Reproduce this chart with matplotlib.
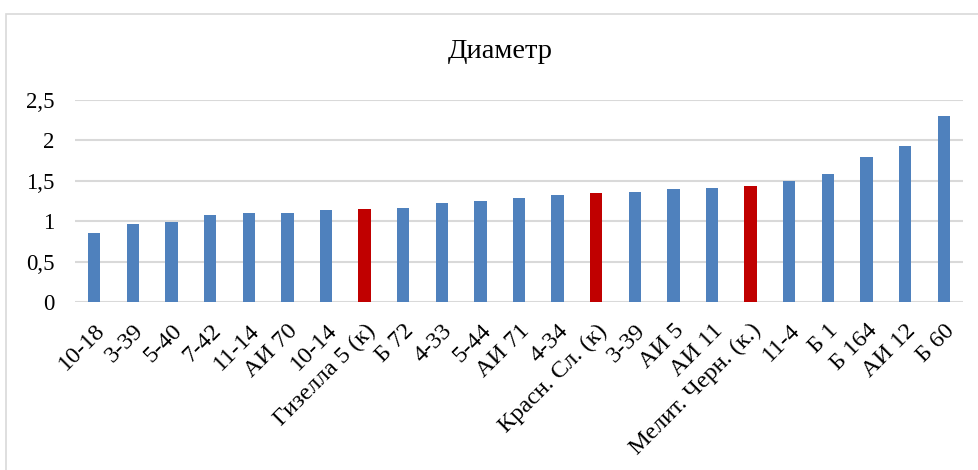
import numpy as np
import matplotlib.pyplot as plt
from matplotlib.patches import Rectangle

# Диаметр по сортам / формам
labels = ["10-18", "3-39", "5-40", "7-42", "11-14", "АИ 70", "10-14",
          "Гизелла 5 (к)", "Б 72", "4-33", "5-44", "АИ 71", "4-34",
          "Красн. Сл. (к)", "3-39", "АИ 5", "АИ 11", "Мелит. Черн. (к.)",
          "11-4", "Б 1", "Б 164", "АИ 12", "Б 60"]
values = [0.85, 0.97, 0.99, 1.08, 1.10, 1.10, 1.14, 1.15, 1.16, 1.23, 1.25,
          1.29, 1.32, 1.35, 1.36, 1.40, 1.415, 1.44, 1.50, 1.59, 1.79, 1.93, 2.30]
# контрольные сорта выделены красным
controls = ["Гизелла 5 (к)", "Красн. Сл. (к)", "Мелит. Черн. (к.)"]
yticks = [0, 0.5, 1, 1.5, 2, 2.5]
ytick_labels = ["0", "0,5", "1", "1,5", "2", "2,5"]

plt.rcParams['font.family'] = ['Liberation Serif', 'DejaVu Serif']

fig = plt.figure(figsize=(9.79, 4.70), dpi=100)
ax = fig.add_axes([75 / 979, 1 - 302 / 470, 888 / 979, 202 / 470])

# рамка вокруг диаграммы
fig.patches.append(Rectangle((6.5 / 979, -0.05), 1.0, 1 - 14 / 470 + 0.05,
                             transform=fig.transFigure, fill=False,
                             edgecolor='#d9d9d9', linewidth=1.2))

x = np.arange(len(values))
colors = ['#c00000' if lab in controls else '#4f81bd' for lab in labels]
ax.bar(x, values, width=0.32, color=colors, zorder=3)

ax.set_xlim(-0.5, len(values) - 0.5)
ax.set_ylim(0, 2.5)
ax.set_yticks(yticks)
ax.set_yticklabels(ytick_labels, fontsize=16.5)
ax.grid(axis='y', color='#d9d9d9', linewidth=1.5, zorder=0)
ax.set_xticks(x)
ax.set_xticklabels(labels, rotation=45, ha='right', rotation_mode='anchor',
                   fontsize=17.5)
ax.tick_params(axis='both', length=0)
ax.tick_params(axis='y', pad=15)
ax.tick_params(axis='x', pad=13)
for s in ax.spines.values():
    s.set_visible(False)

fig.text(500 / 979, 1 - 52 / 470, "Диаметр", fontsize=20.5,
         ha='center', va='center')

fig.savefig("out.png", dpi=100)
